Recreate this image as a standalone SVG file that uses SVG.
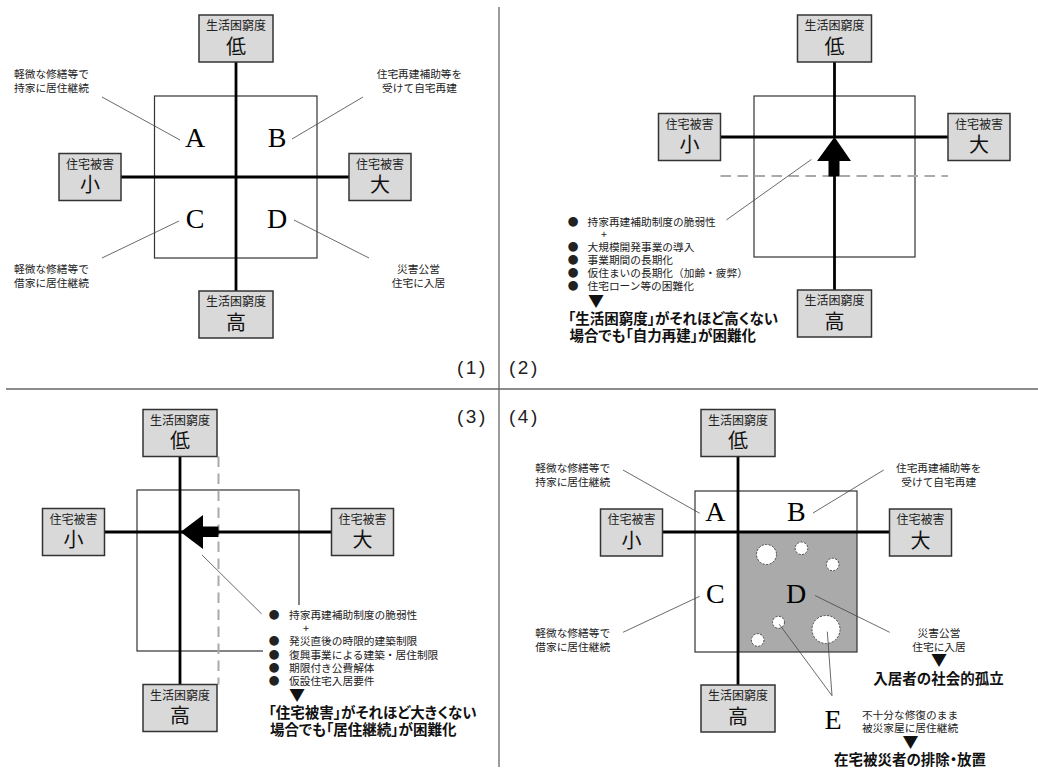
<svg xmlns="http://www.w3.org/2000/svg" width="1038" height="769" viewBox="0 0 1038 769">
<style>
.bx{fill:#d9d9d9;stroke:#333;stroke-width:1.5}
.ts{font-family:"Noto Sans CJK JP","Noto Sans",sans-serif;font-size:12px;text-anchor:middle;fill:#222}
.tb{font-family:"Noto Sans CJK JP","Noto Sans",sans-serif;font-size:20px;text-anchor:middle;fill:#111}
.ax{stroke:#000;stroke-width:2.8;fill:none}
.sq{fill:none;stroke:#333;stroke-width:1.2}
.ld{stroke:#444;stroke-width:0.8;fill:none}
.lb{font-family:"Noto Sans CJK JP","Noto Sans",sans-serif;font-size:10.7px;fill:#222}
.mid{text-anchor:middle}
.let{font-family:"Liberation Serif","Times New Roman",serif;font-size:28px;text-anchor:middle;fill:#000}
.bd{font-family:"Noto Sans CJK JP","Noto Sans",sans-serif;font-size:14.5px;font-weight:bold;fill:#111;font-feature-settings:"palt"}
.tri{font-family:"Noto Sans CJK JP","Noto Sans",sans-serif;font-size:16px;text-anchor:middle;fill:#111}
.num{font-family:"Liberation Sans",Arial,sans-serif;font-size:19px;fill:#222;letter-spacing:2.5px}
.dv{stroke:#666;stroke-width:1.3}
.dash{stroke:#aaa;stroke-width:2;stroke-dasharray:10.5 6.5;fill:none}
.arw{fill:#000}
.hole{fill:#fff;stroke:#444;stroke-width:1;stroke-dasharray:2 1.5}
</style>

<g id="dividers">
<line class="dv" x1="499" y1="7" x2="499" y2="767"/>
<line class="dv" x1="6" y1="389" x2="1038" y2="389"/>
</g>

<g id="panel-labels">
<text class="num" x="457" y="374">(1)</text>
<text class="num" x="509" y="374">(2)</text>
<text class="num" x="457" y="423">(3)</text>
<text class="num" x="509" y="423">(4)</text>
</g>

<g id="p1-square"><rect class="sq" x="154.5" y="96" width="162.5" height="162"/></g>
<g id="p2-square"><rect class="sq" x="754" y="96" width="161" height="161"/></g>
<g id="p3-square"><rect class="sq" x="137" y="490" width="162" height="161"/></g>
<g id="p4-square">
<rect x="738" y="532" width="119" height="120" fill="#aaaaaa"/>
<rect class="sq" x="695" y="491" width="162" height="161"/>
</g>

<g id="p4-holes">
<circle class="hole" cx="766.5" cy="554.5" r="10"/>
<circle class="hole" cx="801.5" cy="548.3" r="6.3"/>
<circle class="hole" cx="832.7" cy="564.5" r="6.3"/>
<circle class="hole" cx="778.5" cy="622.3" r="6"/>
<circle class="hole" cx="757.7" cy="640" r="6.3"/>
<circle class="hole" cx="826" cy="629.5" r="14"/>
</g>

<g id="connectors">
<line class="ax" x1="236" y1="62" x2="236" y2="291"/>
<line class="ax" x1="121" y1="177" x2="349" y2="177"/>
<line class="ld" x1="102" y1="97" x2="180" y2="140"/>
<line class="ld" x1="363" y1="97" x2="292" y2="139"/>
<line class="ld" x1="102" y1="258" x2="179" y2="221"/>
<line class="ld" x1="294" y1="220" x2="369" y2="258"/>

<line class="dash" x1="720.5" y1="176" x2="948" y2="176"/>
<line class="ax" x1="834.5" y1="62" x2="834.5" y2="137"/>
<line class="ax" x1="834.5" y1="176" x2="834.5" y2="290"/>
<line class="ax" x1="720.5" y1="137" x2="948" y2="137"/>
<polygon class="arw" points="834.5,137 851,161 839.5,161 839.5,176.5 828.5,176.5 828.5,161 817,161"/>
<line class="ld" x1="811.3" y1="159.5" x2="726.3" y2="220"/>

<line class="dash" x1="218.5" y1="456.5" x2="218.5" y2="684.5"/>
<line class="ax" x1="180" y1="456.5" x2="180" y2="684.5"/>
<line class="ax" x1="104.5" y1="532" x2="331.5" y2="532"/>
<polygon class="arw" points="180.5,532 203,515 203,526.5 218.5,526.5 218.5,537 203,537 203,549"/>
<line class="ld" x1="202" y1="555" x2="261.7" y2="614"/>

<line class="ax" x1="738" y1="456.5" x2="738" y2="685"/>
<line class="ax" x1="662.5" y1="532" x2="889.5" y2="532"/>
<line class="ld" x1="623" y1="470" x2="699.7" y2="513.3"/>
<line class="ld" x1="883.7" y1="470" x2="813" y2="513"/>
<line class="ld" x1="623" y1="632.3" x2="699.7" y2="596.3"/>
<line class="ld" x1="815" y1="595.5" x2="889.7" y2="632.3"/>
<line class="ld" x1="779.3" y1="624.3" x2="832" y2="695.7"/>
<line class="ld" x1="827.3" y1="631.7" x2="832" y2="695.7"/>
</g>

<g id="p1-top"><rect class="bx" x="199" y="15" width="74" height="47"/><text class="ts" x="236" y="30">生活困窮度</text><text class="tb" x="236" y="53.5">低</text></g>
<g id="p1-bottom"><rect class="bx" x="199" y="291" width="74" height="47"/><text class="ts" x="236" y="306">生活困窮度</text><text class="tb" x="236" y="329.5">高</text></g>
<g id="p1-left"><rect class="bx" x="59" y="153.5" width="62" height="47"/><text class="ts" x="90" y="168.5">住宅被害</text><text class="tb" x="90" y="192">小</text></g>
<g id="p1-right"><rect class="bx" x="349" y="153.5" width="62" height="47"/><text class="ts" x="380" y="168.5">住宅被害</text><text class="tb" x="380" y="192">大</text></g>
<g id="p1-letters">
<text class="let" x="195" y="147">A</text><text class="let" x="277" y="147">B</text>
<text class="let" x="195" y="228">C</text><text class="let" x="277" y="228">D</text>
</g>
<g id="p1-labelA"><text class="lb" x="14" y="77.5">軽微な修繕等で</text><text class="lb" x="14" y="91.5">持家に居住継続</text></g>
<g id="p1-labelB"><text class="lb mid" x="419.5" y="77.5">住宅再建補助等を</text><text class="lb mid" x="419.5" y="91.5">受けて自宅再建</text></g>
<g id="p1-labelC"><text class="lb" x="14" y="273">軽微な修繕等で</text><text class="lb" x="14" y="286.5">借家に居住継続</text></g>
<g id="p1-labelD"><text class="lb mid" x="418.5" y="273">災害公営</text><text class="lb mid" x="418.5" y="286.5">住宅に入居</text></g>

<g id="p2-top"><rect class="bx" x="797.5" y="15" width="74" height="47"/><text class="ts" x="834.5" y="30">生活困窮度</text><text class="tb" x="834.5" y="53.5">低</text></g>
<g id="p2-bottom"><rect class="bx" x="797.5" y="290" width="74" height="47"/><text class="ts" x="834.5" y="305">生活困窮度</text><text class="tb" x="834.5" y="328.5">高</text></g>
<g id="p2-left"><rect class="bx" x="658.5" y="113.5" width="62" height="47"/><text class="ts" x="689.5" y="128.5">住宅被害</text><text class="tb" x="689.5" y="152">小</text></g>
<g id="p2-right"><rect class="bx" x="948" y="113.5" width="62" height="47"/><text class="ts" x="979" y="128.5">住宅被害</text><text class="tb" x="979" y="152">大</text></g>
<g id="p2-list">
<text class="lb mid" x="573" y="225.5">●</text><text class="lb" x="587.5" y="225.5">持家再建補助制度の脆弱性</text>
<text class="lb mid" x="604" y="238">+</text>
<text class="lb mid" x="573" y="251">●</text><text class="lb" x="587.5" y="251">大規模開発事業の導入</text>
<text class="lb mid" x="573" y="264">●</text><text class="lb" x="587.5" y="264">事業期間の長期化</text>
<text class="lb mid" x="573" y="277">●</text><text class="lb" x="587.5" y="277">仮住まいの長期化（加齢・疲弊）</text>
<text class="lb mid" x="573" y="290">●</text><text class="lb" x="587.5" y="290">住宅ローン等の困難化</text>
<text class="tri" x="596" y="307">▼</text>
<text class="bd" x="568" y="324">「生活困窮度」がそれほど高くない</text>
<text class="bd" x="569.5" y="340.5">場合でも「自力再建」が困難化</text>
</g>

<g id="p3-top"><rect class="bx" x="143" y="409.5" width="74" height="47"/><text class="ts" x="180" y="424.5">生活困窮度</text><text class="tb" x="180" y="448">低</text></g>
<g id="p3-bottom"><rect class="bx" x="143" y="684.5" width="74" height="47"/><text class="ts" x="180" y="699.5">生活困窮度</text><text class="tb" x="180" y="723">高</text></g>
<g id="p3-left"><rect class="bx" x="42.5" y="508.5" width="62" height="47"/><text class="ts" x="73.5" y="523.5">住宅被害</text><text class="tb" x="73.5" y="547">小</text></g>
<g id="p3-right"><rect class="bx" x="331.5" y="508.5" width="62" height="47"/><text class="ts" x="362.5" y="523.5">住宅被害</text><text class="tb" x="362.5" y="547">大</text></g>
<g id="p3-list">
<rect x="263" y="605" width="200" height="70" fill="#fff"/>
<text class="lb mid" x="274" y="619">●</text><text class="lb" x="289" y="619">持家再建補助制度の脆弱性</text>
<text class="lb mid" x="306" y="632">+</text>
<text class="lb mid" x="274" y="645.3">●</text><text class="lb" x="289" y="645.3">発災直後の時限的建築制限</text>
<text class="lb mid" x="274" y="658.7">●</text><text class="lb" x="289" y="658.7">復興事業による建築・居住制限</text>
<text class="lb mid" x="274" y="672">●</text><text class="lb" x="289" y="672">期限付き公費解体</text>
<text class="lb mid" x="274" y="684.7">●</text><text class="lb" x="289" y="684.7">仮設住宅入居要件</text>
<text class="tri" x="297" y="700.5">▼</text>
<text class="bd" x="268.5" y="718">「住宅被害」がそれほど大きくない</text>
<text class="bd" x="270" y="734.5">場合でも「居住継続」が困難化</text>
</g>

<g id="p4-top"><rect class="bx" x="701" y="409.5" width="74" height="47"/><text class="ts" x="738" y="424.5">生活困窮度</text><text class="tb" x="738" y="448">低</text></g>
<g id="p4-bottom"><rect class="bx" x="701" y="685" width="74" height="47"/><text class="ts" x="738" y="700">生活困窮度</text><text class="tb" x="738" y="723.5">高</text></g>
<g id="p4-left"><rect class="bx" x="600.5" y="509" width="62" height="47"/><text class="ts" x="631.5" y="524">住宅被害</text><text class="tb" x="631.5" y="547.5">小</text></g>
<g id="p4-right"><rect class="bx" x="889.5" y="509" width="62" height="47"/><text class="ts" x="920.5" y="524">住宅被害</text><text class="tb" x="920.5" y="547.5">大</text></g>
<g id="p4-letters">
<text class="let" x="715.3" y="520.7">A</text><text class="let" x="796.3" y="520.7">B</text>
<text class="let" x="715.3" y="603">C</text><text class="let" x="796" y="603">D</text>
<text class="let" x="833" y="729">E</text>
</g>
<g id="p4-labelA"><text class="lb" x="535.3" y="472.3">軽微な修繕等で</text><text class="lb" x="535.3" y="485.7">持家に居住継続</text></g>
<g id="p4-labelB"><text class="lb mid" x="938.7" y="472.3">住宅再建補助等を</text><text class="lb mid" x="938.7" y="485.7">受けて自宅再建</text></g>
<g id="p4-labelC"><text class="lb" x="535.3" y="637.3">軽微な修繕等で</text><text class="lb" x="535.3" y="650.7">借家に居住継続</text></g>
<g id="p4-labelD">
<text class="lb mid" x="939" y="637.3">災害公営</text><text class="lb mid" x="939" y="650.7">住宅に入居</text>
<text class="tri" x="939" y="666">▼</text>
<text class="bd mid" x="938.5" y="684">入居者の社会的孤立</text>
</g>
<g id="p4-labelE">
<text class="lb mid" x="910" y="718.5">不十分な修復のまま</text><text class="lb mid" x="910" y="731.5">被災家屋に居住継続</text>
<text class="tri" x="910.5" y="748">▼</text>
<text class="bd mid" x="910" y="765">在宅被災者の排除・放置</text>
</g>
</svg>
